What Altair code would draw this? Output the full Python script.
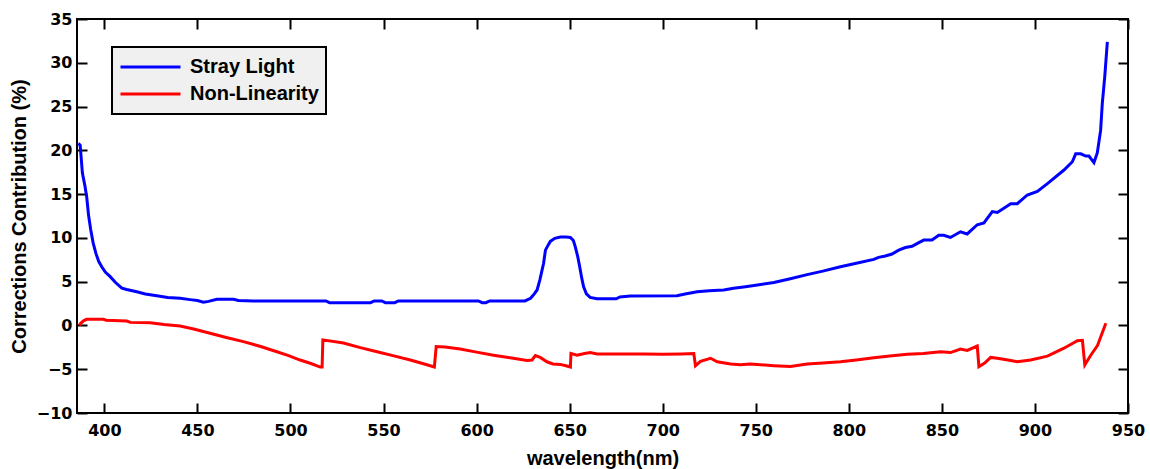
import altair as alt
import pandas as pd

# ---- data ----
series_names = ["Stray Light", "Non-Linearity"]
series_colors = ["#0000ff", "#ff0000"]

sl_wl = [386.0, 387.0, 388.2, 389.5, 390.5, 391.5, 392.7, 394.0, 395.5, 397.0, 398.6,
         400.5, 403.0, 406.0, 409.4, 412.0, 417.4, 422.0, 428.2, 434.0, 440.7, 446.0,
         450.0, 453.2, 456.0, 460.4, 469.4, 472.0, 480.0, 500.0, 519.0, 521.0, 543.0,
         545.0, 549.0, 551.0, 556.0, 558.0, 601.0, 603.0, 605.0, 607.0, 626.0, 629.0,
         631.0, 632.5, 634.0, 636.0, 637.0, 638.5, 639.6, 642.0, 645.0, 648.0, 650.4,
         652.0, 653.0, 654.3, 655.4, 656.5, 657.5, 659.0, 661.0, 664.7, 675.0, 677.0,
         682.6, 707.7, 712.0, 718.5, 725.0, 732.8, 738.0, 743.5, 750.0, 759.7, 768.0,
         777.6, 786.0, 795.5, 804.0, 813.4, 816.0, 819.6, 823.2, 826.8, 830.4, 834.0,
         837.6, 840.3, 844.7, 848.3, 851.0, 854.6, 860.0, 863.6, 869.0, 872.6, 877.1,
         879.8, 887.0, 890.5, 895.9, 901.3, 906.7, 915.6, 920.1, 921.9, 924.6, 927.3,
         929.0, 931.7, 933.5, 935.3, 936.2, 937.5, 938.9]
sl_val = [20.8, 20.6, 17.4, 16.0, 14.7, 12.6, 10.9, 9.4, 8.2, 7.3, 6.7,
          6.1, 5.6, 4.9, 4.25, 4.1, 3.85, 3.6, 3.4, 3.2, 3.1, 2.95,
          2.85, 2.65, 2.75, 3.0, 3.0, 2.85, 2.8, 2.8, 2.8, 2.6, 2.6,
          2.8, 2.8, 2.6, 2.6, 2.8, 2.8, 2.6, 2.6, 2.8, 2.8, 3.1,
          3.6, 4.05, 5.2, 7.1, 8.6, 9.2, 9.6, 9.95, 10.1, 10.1, 10.05,
          9.7, 9.0, 7.9, 6.7, 5.4, 4.4, 3.6, 3.2, 3.05, 3.05, 3.25,
          3.35, 3.4, 3.6, 3.85, 3.95, 4.05, 4.25, 4.4, 4.6, 4.9, 5.3,
          5.8, 6.2, 6.7, 7.1, 7.55, 7.78, 7.93, 8.16, 8.6, 8.9, 9.05,
          9.45, 9.75, 9.75, 10.3, 10.3, 10.05, 10.7, 10.45, 11.5, 11.7, 13.0,
          12.9, 13.9, 13.9, 14.9, 15.3, 16.2, 17.75, 18.7, 19.6, 19.6, 19.35,
          19.35, 18.6, 19.7, 22.3, 25.4, 28.4, 32.4]

nl_wl = [386.5, 387.3, 389.0, 390.5, 399.5, 401.0, 412.0, 414.0, 424.6, 432.0, 440.7,
         448.0, 456.8, 465.0, 474.7, 484.0, 492.7, 499.0, 505.2, 511.0, 516.0, 517.0,
         517.4, 528.5, 537.0, 546.5, 555.0, 564.4, 571.0, 577.3, 578.3, 583.0, 591.2,
         600.0, 609.1, 618.0, 627.1, 629.8, 631.6, 634.2, 637.8, 641.0, 645.0, 648.0,
         650.4, 650.7, 654.0, 658.0, 661.1, 664.7, 690.0, 700.0, 710.0, 716.7, 717.6,
         720.3, 725.7, 729.3, 736.5, 741.8, 747.0, 759.7, 768.6, 777.6, 786.0, 795.5,
         804.0, 813.4, 822.0, 831.4, 840.0, 849.3, 854.6, 860.0, 863.6, 869.0, 869.9,
         873.0, 876.2, 879.8, 887.0, 890.5, 897.7, 906.7, 915.6, 922.8, 925.5, 926.8,
         930.0, 933.6, 938.1]
nl_val = [0.0, 0.25, 0.55, 0.7, 0.7, 0.6, 0.5, 0.35, 0.3, 0.1, -0.06,
          -0.4, -0.9, -1.35, -1.85, -2.4, -3.0, -3.45, -3.95, -4.35, -4.75, -4.75,
          -1.65, -2.0, -2.5, -3.0, -3.45, -3.95, -4.35, -4.75, -2.4, -2.45, -2.7,
          -3.05, -3.4, -3.7, -4.0, -3.95, -3.45, -3.65, -4.15, -4.4, -4.45, -4.6,
          -4.75, -3.2, -3.4, -3.2, -3.1, -3.25, -3.25, -3.3, -3.25, -3.2, -4.6,
          -4.1, -3.75, -4.15, -4.4, -4.5, -4.4, -4.6, -4.7, -4.4, -4.3, -4.15,
          -3.95, -3.7, -3.5, -3.3, -3.2, -3.0, -3.1, -2.7, -2.85, -2.35, -4.7,
          -4.3, -3.65, -3.75, -4.0, -4.15, -3.95, -3.5, -2.6, -1.75, -1.7, -4.5,
          -3.4, -2.3, 0.25]

x_ticks = [400, 450, 500, 550, 600, 650, 700, 750, 800, 850, 900, 950]
y_ticks = [-10, -5, 0, 5, 10, 15, 20, 25, 30, 35]
x_domain = [385.3, 950]
y_domain = [-10, 35]

df = pd.concat([
    pd.DataFrame({"wl": sl_wl, "val": sl_val, "series": series_names[0], "idx": range(len(sl_wl))}),
    pd.DataFrame({"wl": nl_wl, "val": nl_val, "series": series_names[1], "idx": range(len(nl_wl))}),
], ignore_index=True)

FONT = "Liberation Sans"
LFONT = "DejaVu Sans"
W, H = 1051, 394

x_scale = alt.Scale(domain=x_domain, nice=False, zero=False)
y_scale = alt.Scale(domain=y_domain, nice=False, zero=False)

main = alt.Chart(df).mark_line(strokeWidth=3).encode(
    x=alt.X("wl:Q", scale=x_scale, title="wavelength(nm)",
            axis=alt.Axis(orient="bottom", values=x_ticks, ticks=False, tickSize=0,
                          domain=False, grid=False, labelPadding=9, labelFont=LFONT,
                          labelFontSize=16, labelFontWeight="bold", labelColor="black",
                          labelFlush=False, labelOverlap=False,
                          titleFont=FONT, titleFontSize=20, titleFontWeight="bold",
                          titleColor="black", titleX=W / 2, titleY=45,
                          titleAlign="center", titleBaseline="middle")),
    y=alt.Y("val:Q", scale=y_scale, title="Corrections Contribution (%)",
            axis=alt.Axis(orient="left", values=y_ticks, ticks=False, tickSize=0,
                          domain=False, grid=False, labelPadding=5, labelFont=LFONT,
                          labelFontSize=16, labelFontWeight="bold", labelColor="black",
                          labelFlush=False, labelOverlap=False,
                          titleFont=FONT, titleFontSize=20, titleFontWeight="bold",
                          titleColor="black", titleX=-58, titleY=H / 2, titleAngle=270,
                          titleAlign="center", titleBaseline="middle")),
    color=alt.Color("series:N", scale=alt.Scale(domain=series_names, range=series_colors),
                    legend=alt.Legend(orient="none", legendX=35, legendY=28, title=None,
                                      fillColor="#f0f0f0", strokeColor="black",
                                      symbolType="stroke", symbolSize=3600,
                                      symbolStrokeWidth=3, clipHeight=26, rowPadding=1,
                                      labelOffset=8, padding=7, labelFont=FONT,
                                      labelFontSize=20, labelFontWeight="bold",
                                      labelColor="black")),
    order="idx:Q",
)


def tick_layer(xorient, yorient):
    return alt.Chart(df).mark_line(opacity=0).encode(
        x=alt.X("wl:Q", scale=x_scale, title="",
                axis=alt.Axis(orient=xorient, values=x_ticks, labels=False, domain=False,
                              grid=False, ticks=True, tickSize=10, tickWidth=2,
                              tickColor="black", offset=-10)),
        y=alt.Y("val:Q", scale=y_scale, title="",
                axis=alt.Axis(orient=yorient, values=y_ticks, labels=False, domain=False,
                              grid=False, ticks=True, tickSize=10, tickWidth=2,
                              tickColor="black", offset=-10)),
        detail="series:N",
        order="idx:Q",
    )


chart = alt.layer(
    tick_layer("bottom", "left"),
    tick_layer("top", "right"),
    main,
).resolve_axis(x="independent", y="independent").properties(
    width=W, height=H,
    padding={"left": 77, "top": 19, "right": 22, "bottom": 56},
    autosize=alt.AutoSizeParams(type="none"),
    background="white",
).configure_view(stroke="black", strokeWidth=2).configure_legend(strokeWidth=2)

chart.save("out.html", embed_options={"renderer": "svg", "actions": False})
